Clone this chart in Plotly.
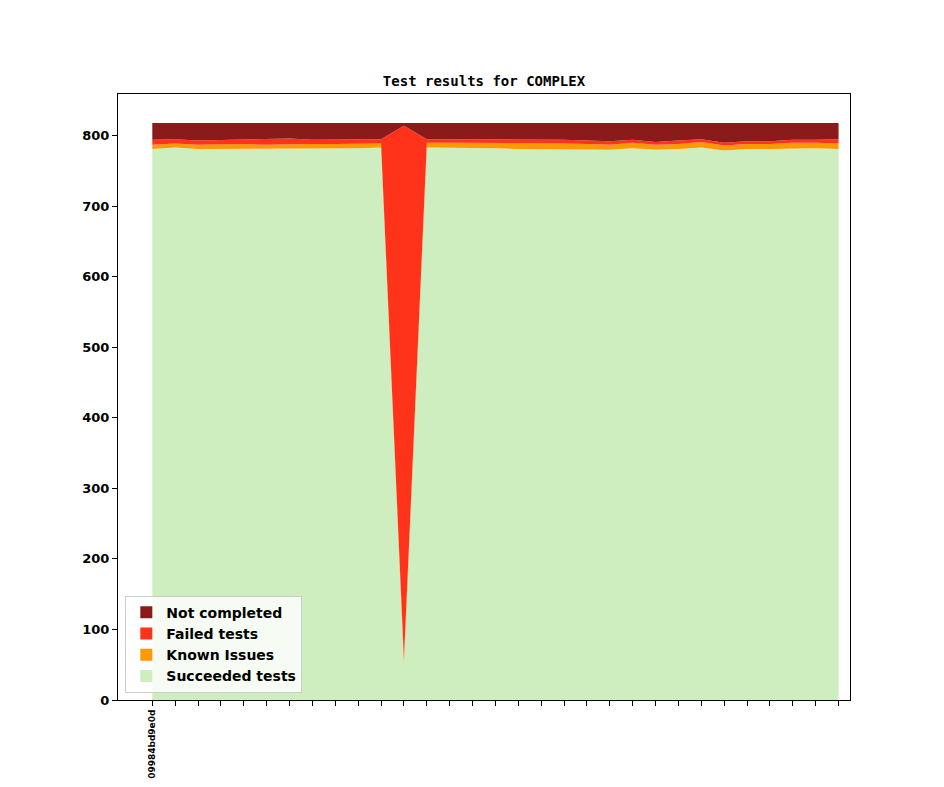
import plotly.graph_objects as go

# test run results per commit (only the first commit hash is labelled)
commit_labels = ["09984bd9e0d"] + [""] * 30

succeeded = [781, 783, 781, 781, 781, 781, 782, 782, 782, 782, 783, 50,
             783, 783, 783, 782, 781, 781, 781, 781, 780, 782, 780, 781,
             783, 779, 781, 781, 782, 782, 781]
known_issues = [6, 6, 6, 7, 7, 6, 6, 6, 6, 6, 6, 8,
                7, 7, 7, 7, 8, 8, 8, 7, 7, 8, 7, 7,
                8, 7, 7, 7, 8, 8, 8]
failed = [7, 6, 6, 6, 7, 8, 8, 6, 6, 6, 6, 756,
          5, 5, 5, 5, 5, 5, 5, 5, 5, 4, 4, 5,
          4, 4, 4, 4, 4, 4, 6]
not_completed = [24, 23, 25, 24, 23, 23, 22, 24, 24, 24, 23, 4,
                 23, 23, 23, 24, 24, 24, 24, 25, 26, 24, 27, 25,
                 23, 28, 26, 26, 24, 24, 23]

x = list(range(len(succeeded)))

series = [
    ("Succeeded tests", succeeded, "#CFEEC0"),
    ("Known Issues", known_issues, "#FF9900"),
    ("Failed tests", failed, "#FF3319"),
    ("Not completed", not_completed, "#8B1A1A"),
]

fig = go.Figure()
for name, values, color in series:
    fig.add_trace(go.Scatter(
        x=x, y=values, name=name, stackgroup="one",
        mode="lines", line=dict(width=0, color=color),
        fillcolor=color, showlegend=False,
    ))

# rectangular legend patches, like matplotlib's stackplot legend
for name, values, color in series:
    fig.add_trace(go.Bar(x=[None], y=[None], name=name,
                         marker=dict(color=color, line=dict(width=0))))

# page body adds ~8px offset, so the figure is shrunk to fit the window
fig.update_layout(
    width=928, height=771,
    margin=dict(l=110, r=86, t=86, b=79),
    paper_bgcolor="white", plot_bgcolor="white",
    title=dict(text="Test results for COMPLEX", x=(484 - 8) / 928,
               xanchor="center", y=1 - (81 - 8) / 771, yanchor="middle",
               font=dict(family="DejaVu Sans Mono", size=14, color="black",
                         weight="bold")),
    font=dict(family="DejaVu Sans", color="black"),
    legend=dict(x=0.01, y=0.012, xanchor="left", yanchor="bottom",
                traceorder="reversed", bgcolor="rgba(255,255,255,0.8)",
                bordercolor="#cccccc", borderwidth=1,
                font=dict(size=14, weight="bold", color="black")),
    showlegend=True,
)

fig.update_xaxes(
    range=[-1.5, len(x) - 0.5], tickmode="array", tickvals=x,
    ticktext=commit_labels, tickangle=-90, automargin=False,
    tickfont=dict(size=9, weight="bold"),
    ticks="outside", ticklen=5, tickcolor="black",
    showline=True, linecolor="black", linewidth=1, mirror=True,
    showgrid=False, zeroline=False,
)
fig.update_yaxes(
    range=[0, 859], tickvals=[0, 100, 200, 300, 400, 500, 600, 700, 800],
    tickfont=dict(size=13, weight="bold"), automargin=False,
    ticks="outside", ticklen=5, tickcolor="black",
    showline=True, linecolor="black", linewidth=1, mirror=True,
    showgrid=False, zeroline=False,
)

fig.write_html("out.html")
